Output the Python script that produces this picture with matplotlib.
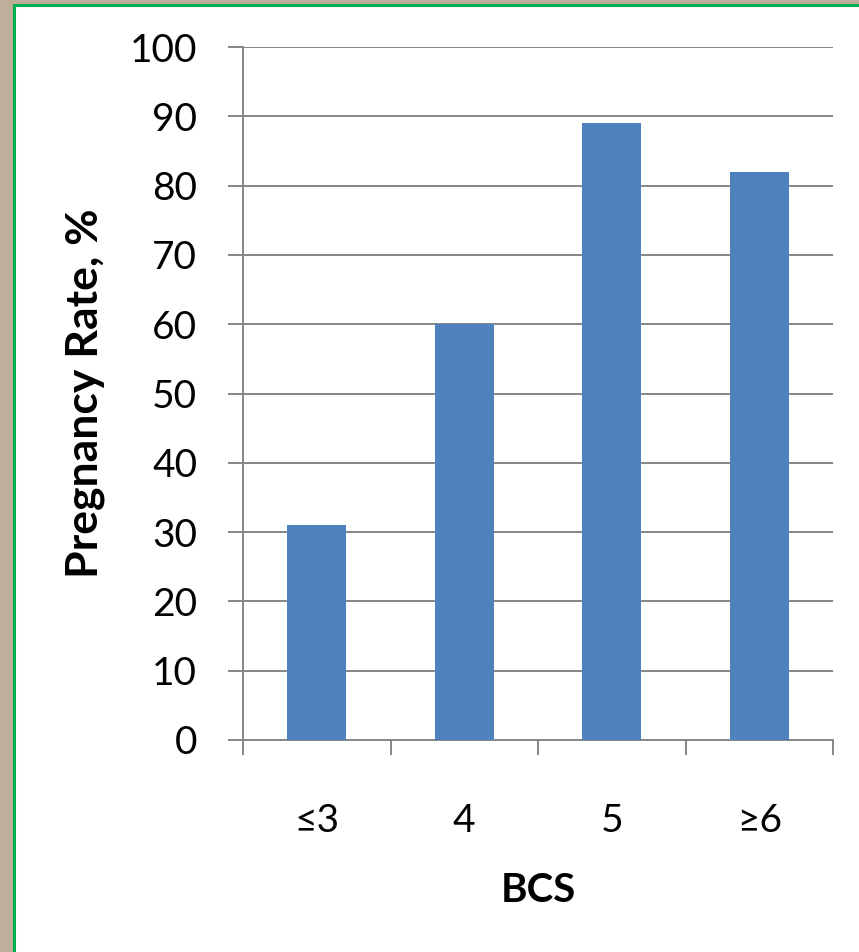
import numpy as np
import matplotlib.pyplot as plt
from matplotlib.patches import Rectangle

# 体况评分与妊娠率
categories = ['≤3', '4', '5', '≥6']
pregnancy_rate = [31, 60, 89, 82]

plt.rcParams['font.family'] = ['Lato', 'DejaVu Sans']

W, H = 859, 952
fig = plt.figure(figsize=(W / 100, H / 100), dpi=100)
fig.patch.set_facecolor('#BDAF99')

# 白色底板，左侧和顶部有绿色边线
panel = Rectangle((14 / W, -0.05), 1.0, 1.05 - 5 / H, transform=fig.transFigure,
                  facecolor='white', edgecolor='#00B050', linewidth=2.2, zorder=-1)
fig.patches.append(panel)

ax = fig.add_axes([243 / W, 1 - 740 / H, (833 - 243) / W, (740 - 47) / H])
ax.set_zorder(1)
ax.set_facecolor('none')

grey = '#868686'
x = np.arange(len(categories))
ax.bar(x, pregnancy_rate, width=0.4, color='#4F81BD', zorder=3)

ax.set_xlim(-0.5, len(categories) - 0.5)
ax.set_ylim(0, 100)
ax.set_yticks(np.arange(0, 101, 10))
ax.yaxis.grid(True, color=grey, linewidth=1.4, zorder=0)
ax.set_axisbelow(True)

for s in ['top', 'right']:
    ax.spines[s].set_visible(False)
for s in ['left', 'bottom']:
    ax.spines[s].set_color(grey)
    ax.spines[s].set_linewidth(1.4)

ax.tick_params(axis='y', direction='out', length=11, width=1.4, color=grey,
               pad=22, labelsize=28)
ax.set_xticks(x)
ax.set_xticklabels(categories)
ax.set_xticks(np.arange(-0.5, len(categories)), minor=True)
ax.tick_params(axis='x', which='major', length=0, pad=45, labelsize=28)
ax.tick_params(axis='x', which='minor', direction='out', length=11, width=1.4, color=grey)

ax.set_ylabel('Pregnancy Rate, %', fontsize=32, fontweight='bold', labelpad=18)
ax.set_xlabel('BCS', fontsize=29, fontweight='bold', labelpad=24)

fig.savefig('out.png', dpi=100, facecolor=fig.get_facecolor())
